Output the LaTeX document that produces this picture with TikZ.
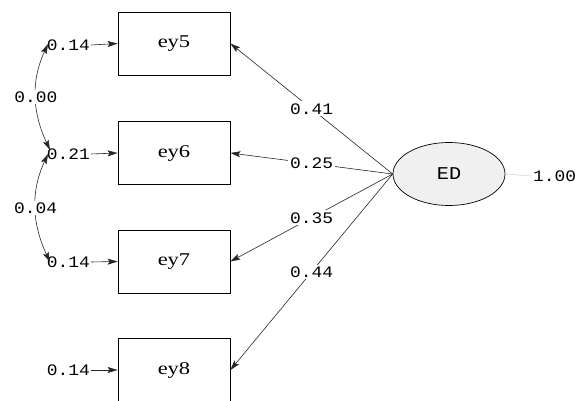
\documentclass[tikz,border=0pt]{standalone}
\usepackage{fontspec}
\usetikzlibrary{arrows.meta,shapes.geometric}
\newfontfamily\numfont[FakeStretch=1.12]{Liberation Mono}
\newfontfamily\boxfont[FakeStretch=1.25]{Liberation Serif}
\begin{document}
\begin{tikzpicture}[x=1pt,y=-1pt,
  obs/.style={draw, line width=0.8pt, minimum width=112pt, minimum height=63pt, inner sep=0pt, font=\boxfont\fontsize{18}{20}\selectfont},
  lat/.style={ellipse, draw, line width=0.7pt, fill=gray!12, minimum width=112pt, minimum height=63pt, inner sep=0pt, font=\numfont\fontsize{18}{20}\selectfont},
  num/.style={font=\numfont\fontsize{16}{18}\selectfont, inner sep=1pt},
  lbl/.style={num, fill=white, inner sep=2pt},
  tip/.style={Stealth[length=10pt,width=6pt,inset=2pt]},
  arr/.style={-{Stealth[length=10pt,width=6pt,inset=2pt]}, line width=0.6pt, draw=black!85},
  dbl/.style={{Stealth[length=10pt,width=6pt,inset=2pt]}-{Stealth[length=10pt,width=6pt,inset=2pt]}, line width=0.6pt, draw=black!85}]
\useasboundingbox (0,0) rectangle (575,401);

% observed variables
\node[obs] (ey5) at (174,43.5) {ey5};
\node[obs] (ey6) at (174,153) {ey6};
\node[obs] (ey7) at (174,261.5) {ey7};
\node[obs] (ey8) at (174,370) {ey8};

% latent
\node[lat] (ED) at (449,174) {ED};
\node[num, anchor=west] (v) at (532,176) {1.00};
\draw[gray!40, line width=0.5pt] (ED.east) -- (v.west);

% loadings
\draw[arr] (ED.west) -- node[lbl, midway] {0.41} (ey5.east);
\draw[arr] (ED.west) -- node[lbl, midway] {0.25} (ey6.east);
\draw[arr] (ED.west) -- node[lbl, midway] {0.35} (ey7.east);
\draw[arr] (ED.west) -- node[lbl, midway] {0.44} (ey8.east);

% error variances
\node[num, anchor=east] (e5) at (91,45) {0.14};
\node[num, anchor=east] (e6) at (91,154) {0.21};
\node[num, anchor=east] (e7) at (91,262) {0.14};
\node[num, anchor=east] (e8) at (91,370) {0.14};
\draw[arr] (e5.east) -- (ey5.west);
\draw[arr] (e6.east) -- (ey6.west);
\draw[arr] (e7.east) -- (ey7.west);
\draw[arr] (e8.east) -- (ey8.west);

% error covariances
\coordinate (t5) at (48,44);
\coordinate (t6a) at (50,150);
\coordinate (t6b) at (48,154);
\coordinate (t7) at (50,262);
\draw[dbl] (t5) to[out=245,in=115] node[lbl, midway] {0.00} (t6a);
\draw[dbl] (t6b) to[out=245,in=115] node[lbl, midway] {0.04} (t7);
\end{tikzpicture}
\end{document}
